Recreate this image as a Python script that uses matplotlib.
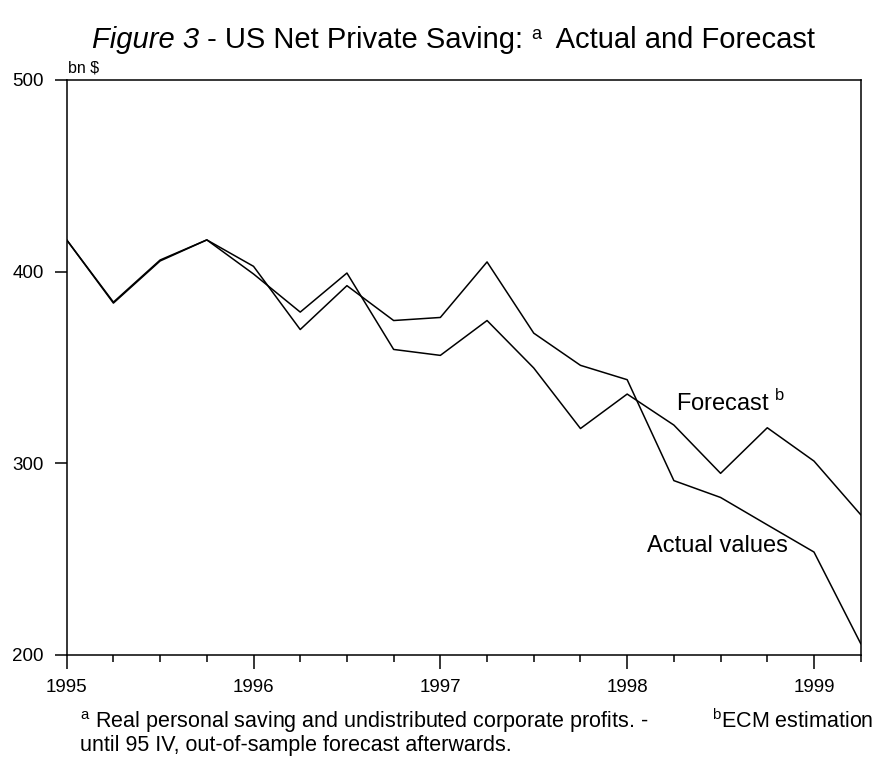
import matplotlib
matplotlib.use("Agg")
import matplotlib.pyplot as plt
from matplotlib.ticker import MultipleLocator

plt.rcParams['font.family'] = ['Liberation Sans', 'DejaVu Sans']
plt.rcParams['mathtext.fontset'] = 'custom'
plt.rcParams['mathtext.rm'] = 'Liberation Sans'

# quarterly observations 1995 I .. 1999 II
quarters = [1995.0, 1995.25, 1995.5, 1995.75,
            1996.0, 1996.25, 1996.5, 1996.75,
            1997.0, 1997.25, 1997.5, 1997.75,
            1998.0, 1998.25, 1998.5, 1998.75,
            1999.0, 1999.25]
actual = [416.5, 384, 406, 416.5,
          402.7, 369.7, 392.6, 374.4,
          376, 405, 367.8, 351,
          343.5, 290.8, 282, 267.7,
          253.5, 205.7]
forecast = [416.5, 383.5, 405.5, 416.5,
            398.7, 378.8, 399.2, 359.3,
            356.2, 374.4, 349.6, 318,
            336, 319.8, 294.6, 318.4,
            301, 273]
year_ticks = [1995, 1996, 1997, 1998, 1999]
y_ticks = [200, 300, 400, 500]

W, H = 891, 765
fig = plt.figure(figsize=(W / 100, H / 100), dpi=100)
left, right, top, bottom = 66.7, 860.7, 80, 654.5
ax = fig.add_axes([left / W, 1 - bottom / H, (right - left) / W, (bottom - top) / H])

ax.plot(quarters, actual, color='black', lw=1.1)
ax.plot(quarters, forecast, color='black', lw=1.1)

ax.set_xlim(1995, 1999.25)
ax.set_ylim(200, 500)
ax.set_xticks(year_ticks)
ax.set_xticklabels([str(y) for y in year_ticks], fontsize=13.5)
ax.xaxis.set_minor_locator(MultipleLocator(0.25))
ax.set_yticks(y_ticks)
ax.set_yticklabels([str(v) for v in y_ticks], fontsize=13.5)
ax.tick_params(axis='x', which='major', direction='out', length=10, width=1.1, pad=7.5)
ax.tick_params(axis='x', which='minor', direction='out', length=5, width=1.1)
ax.tick_params(axis='y', which='major', direction='out', length=8.5, width=1.1, pad=8)
for s in ax.spines.values():
    s.set_linewidth(1.1)

ax.text(0.002, 1.008, 'bn $', transform=ax.transAxes, fontsize=11.5,
        ha='left', va='bottom')
ax.text(1998.26, 331.5, r'Forecast $^{\mathrm{b}}$', fontsize=17, ha='left', va='center')
ax.text(1998.107, 256.4, 'Actual values', fontsize=17, ha='left', va='center')

# title pieces laid end to end on one baseline
title_y = 1 - 48 / H
pieces = [('Figure 3', 21, 'italic', 0),
          (' - US Net Private Saving: ', 21, 'normal', 0),
          ('a', 13, 'normal', 9),
          ('  Actual and Forecast', 21, 'normal', 0)]
renderer = fig.canvas.get_renderer()
x = 92 / W
for txt, size, style, rise in pieces:
    t = fig.text(x, title_y + rise / H, txt, fontsize=size, style=style,
                 ha='left', va='baseline')
    bb = t.get_window_extent(renderer)
    x = fig.transFigure.inverted().transform((bb.x1, bb.y0))[0]

# footnotes
fig.text(80 / W, 1 - 709 / H,
         '$^{\\mathrm{a}}$ Real personal saving and undistributed corporate profits. -\n'
         'until 95 IV, out-of-sample forecast afterwards.',
         fontsize=15.5, ha='left', va='top', linespacing=1.0)
fig.text(712 / W, 1 - 709 / H, r'$^{\mathrm{b}}$ECM estimation',
         fontsize=15.5, ha='left', va='top')

fig.savefig('out.png', dpi=100)
